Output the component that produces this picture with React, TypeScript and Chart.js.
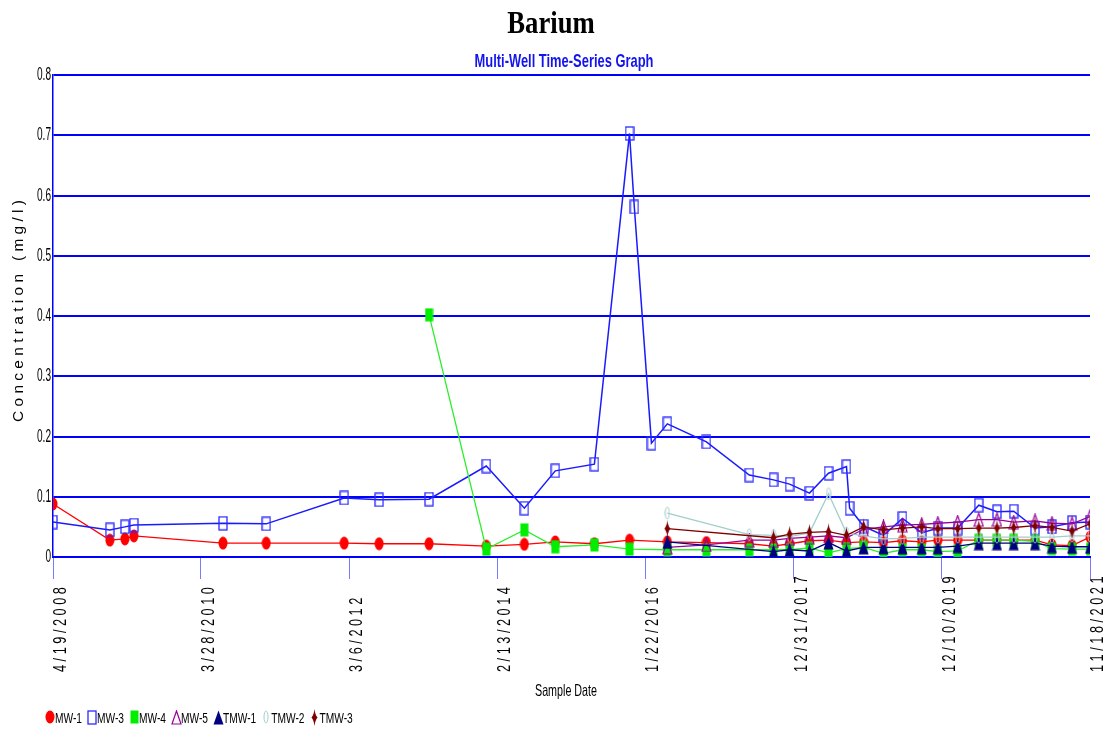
import { useEffect, useRef } from "react";
import { Chart, registerables } from "chart.js";

Chart.register(...registerables);

const SANS = '"Liberation Sans", Arial, Helvetica, sans-serif';

// Axis ticks
const tickDates = ["2008-04-19", "2010-03-28", "2012-03-06", "2014-02-13", "2016-01-22", "2017-12-31", "2019-12-10", "2021-11-18"];
const yMin = 0;
const yMax = 0.8;
const yStep = 0.1;

// Well series
const mw1Dates = ["2008-04-19", "2009-01-16", "2009-03-29", "2009-05-11", "2010-07-11", "2011-02-03", "2012-02-11", "2012-07-27", "2013-03-23", "2013-12-22", "2014-06-22", "2014-11-17", "2015-05-23", "2015-11-07", "2016-05-06", "2016-11-09", "2017-06-02", "2017-09-26", "2017-12-12", "2018-03-17", "2018-06-16", "2018-09-10", "2018-12-01", "2019-03-06", "2019-06-05", "2019-09-05", "2019-11-21", "2020-02-24", "2020-06-04", "2020-08-30", "2020-11-18", "2021-02-28", "2021-05-20", "2021-08-24", "2021-11-18"];
const mw1Values = [0.088, 0.028, 0.030, 0.035, 0.023, 0.023, 0.023, 0.022, 0.022, 0.018, 0.021, 0.025, 0.022, 0.028, 0.025, 0.024, 0.022, 0.018, 0.022, 0.027, 0.028, 0.024, 0.025, 0.024, 0.027, 0.025, 0.028, 0.028, 0.028, 0.028, 0.028, 0.028, 0.020, 0.019, 0.033];

const mw3Dates = ["2008-04-19", "2009-01-16", "2009-03-29", "2009-05-11", "2010-07-11", "2011-02-03", "2012-02-11", "2012-07-27", "2013-03-23", "2013-12-22", "2014-06-22", "2014-11-17", "2015-05-23", "2015-11-07", "2015-11-30", "2016-02-20", "2016-05-06", "2016-11-09", "2017-06-02", "2017-09-26", "2017-12-12", "2018-03-17", "2018-06-16", "2018-09-10", "2018-09-25", "2018-12-01", "2019-03-06", "2019-06-05", "2019-09-05", "2019-11-21", "2020-02-24", "2020-06-04", "2020-08-30", "2020-11-18", "2021-02-28", "2021-05-20", "2021-08-24", "2021-11-18"];
const mw3Values = [0.058, 0.045, 0.050, 0.053, 0.056, 0.055, 0.098, 0.095, 0.096, 0.151, 0.081, 0.143, 0.154, 0.703, 0.581, 0.189, 0.221, 0.191, 0.136, 0.128, 0.121, 0.106, 0.139, 0.150, 0.081, 0.051, 0.036, 0.064, 0.040, 0.048, 0.048, 0.086, 0.075, 0.076, 0.048, 0.050, 0.057, 0.058];

const mw4Dates = ["2013-03-23", "2013-12-22", "2014-06-22", "2014-11-17", "2015-05-23", "2015-11-07", "2016-05-06", "2016-11-09", "2017-06-02", "2017-09-26", "2017-12-12", "2018-03-17", "2018-06-16", "2018-09-10", "2018-12-01", "2019-03-06", "2019-06-05", "2019-09-05", "2019-11-21", "2020-02-24", "2020-06-04", "2020-08-30", "2020-11-18", "2021-02-28", "2021-05-20", "2021-08-24", "2021-11-18"];
const mw4Values = [0.402, 0.013, 0.045, 0.017, 0.020, 0.013, 0.012, 0.012, 0.012, 0.012, 0.012, 0.015, 0.007, 0.014, 0.016, 0.006, 0.012, 0.012, 0.009, 0.010, 0.028, 0.028, 0.028, 0.026, 0.014, 0.013, 0.013];

const mw5Dates = ["2016-05-06", "2016-11-09", "2017-06-02", "2017-09-26", "2017-12-12", "2018-03-17", "2018-06-16", "2018-09-10", "2018-12-01", "2019-03-06", "2019-06-05", "2019-09-05", "2019-11-21", "2020-02-24", "2020-06-04", "2020-08-30", "2020-11-18", "2021-02-28", "2021-05-20", "2021-08-24", "2021-11-18"];
const mw5Values = [0.016, 0.020, 0.028, 0.028, 0.031, 0.033, 0.035, 0.032, 0.046, 0.050, 0.053, 0.054, 0.056, 0.058, 0.062, 0.062, 0.058, 0.060, 0.056, 0.055, 0.067];

const tmw1Dates = ["2016-05-06", "2017-09-26", "2017-12-12", "2018-03-17", "2018-06-16", "2018-09-10", "2018-12-01", "2019-03-06", "2019-06-05", "2019-09-05", "2019-11-21", "2020-02-24", "2020-06-04", "2020-08-30", "2020-11-18", "2021-02-28", "2021-05-20", "2021-08-24", "2021-11-18"];
const tmw1Values = [0.025, 0.009, 0.012, 0.010, 0.024, 0.010, 0.016, 0.016, 0.016, 0.016, 0.016, 0.018, 0.023, 0.023, 0.023, 0.023, 0.018, 0.017, 0.017];

const tmw2Dates = ["2016-05-06", "2017-06-02", "2017-09-26", "2017-12-12", "2018-03-17", "2018-06-16", "2018-09-10", "2018-12-01", "2019-03-06", "2019-06-05", "2019-09-05", "2019-11-21", "2020-02-24", "2020-06-04", "2020-08-30", "2020-11-18", "2021-02-28", "2021-05-20", "2021-08-24", "2021-11-18"];
const tmw2Values = [0.073, 0.037, 0.036, 0.034, 0.040, 0.105, 0.040, 0.035, 0.030, 0.031, 0.033, 0.033, 0.033, 0.033, 0.033, 0.033, 0.033, 0.033, 0.035, 0.035];

const tmw3Dates = ["2016-05-06", "2017-09-26", "2017-12-12", "2018-03-17", "2018-06-16", "2018-09-10", "2018-12-01", "2019-03-06", "2019-06-05", "2019-09-05", "2019-11-21", "2020-02-24", "2020-06-04", "2020-08-30", "2020-11-18", "2021-02-28", "2021-05-20", "2021-08-24", "2021-11-18"];
const tmw3Values = [0.047, 0.032, 0.038, 0.041, 0.042, 0.036, 0.050, 0.045, 0.048, 0.050, 0.047, 0.047, 0.048, 0.048, 0.049, 0.052, 0.049, 0.043, 0.055];

const seriesLabels = ["MW-1", "MW-3", "MW-4", "MW-5", "TMW-1", "TMW-2", "TMW-3"];
const seriesColors = ["#ff0000", "#1a1aff", "#2aee2a", "#990099", "#000080", "#a3cccc", "#800000"];

const chartTitle = "Barium";
const chartSubtitle = "Multi-Well Time-Series Graph";
const xTitle = "Sample Date";
const yTitle = "Concentration (mg/l)";

type Painter = (ctx: CanvasRenderingContext2D, w: number, h: number) => void;

function makeMarker(w: number, h: number, paint: Painter): HTMLCanvasElement {
  const c = document.createElement("canvas");
  c.width = w;
  c.height = h;
  const ctx = c.getContext("2d")!;
  paint(ctx, w, h);
  return c;
}

function buildMarkers(): HTMLCanvasElement[] {
  return [
    // filled ellipse
    makeMarker(10, 14, (ctx) => {
      ctx.fillStyle = "#ff0000";
      ctx.beginPath();
      ctx.ellipse(5, 7, 4.5, 6.5, 0, 0, Math.PI * 2);
      ctx.fill();
    }),
    // open rectangle
    makeMarker(10, 15, (ctx) => {
      ctx.strokeStyle = "#2a2aff";
      ctx.lineWidth = 1.3;
      ctx.strokeRect(1, 1, 8, 13);
    }),
    // filled rectangle
    makeMarker(9, 14, (ctx) => {
      ctx.fillStyle = "#00ee00";
      ctx.fillRect(0.5, 0.5, 8, 13);
    }),
    // open triangle
    makeMarker(11, 15, (ctx) => {
      ctx.strokeStyle = "#990099";
      ctx.lineWidth = 1.2;
      ctx.beginPath();
      ctx.moveTo(5.5, 1);
      ctx.lineTo(10, 14);
      ctx.lineTo(1, 14);
      ctx.closePath();
      ctx.stroke();
    }),
    // filled triangle
    makeMarker(11, 15, (ctx) => {
      ctx.fillStyle = "#000080";
      ctx.beginPath();
      ctx.moveTo(5.5, 0.5);
      ctx.lineTo(10.5, 14.5);
      ctx.lineTo(0.5, 14.5);
      ctx.closePath();
      ctx.fill();
    }),
    // thin open ellipse
    makeMarker(6, 14, (ctx) => {
      ctx.strokeStyle = "#a3cccc";
      ctx.lineWidth = 1;
      ctx.beginPath();
      ctx.ellipse(3, 7, 2, 6, 0, 0, Math.PI * 2);
      ctx.stroke();
    }),
    // thin diamond
    makeMarker(7, 17, (ctx) => {
      ctx.fillStyle = "#800000";
      ctx.beginPath();
      ctx.moveTo(3.5, 0);
      ctx.quadraticCurveTo(4.2, 6, 6.5, 8.5);
      ctx.quadraticCurveTo(4.2, 11, 3.5, 17);
      ctx.quadraticCurveTo(2.8, 11, 0.5, 8.5);
      ctx.quadraticCurveTo(2.8, 6, 3.5, 0);
      ctx.fill();
    }),
  ];
}

// Letter-spaced text, words separated by a wider gap
const spaced = (s: string) => s.split(" ").map((w) => w.split("").join(" ")).join("   ");

function formatDate(ms: number): string {
  const d = new Date(ms);
  return `${d.getUTCMonth() + 1}/${d.getUTCDate()}/${d.getUTCFullYear()}`;
}

function toPoints(dates: string[], values: number[]) {
  return dates.map((d, i) => ({ x: Date.parse(d), y: values[i] }));
}

// Draws text squeezed along its own direction by sx, optionally rotated.
function drawText(
  ctx: CanvasRenderingContext2D,
  text: string,
  x: number,
  y: number,
  opts: { font: string; color?: string; sx?: number; align?: CanvasTextAlign; baseline?: CanvasTextBaseline; rotate?: number; fitWidth?: number }
) {
  ctx.save();
  ctx.font = opts.font;
  ctx.fillStyle = opts.color ?? "#000000";
  ctx.textAlign = opts.align ?? "center";
  ctx.textBaseline = opts.baseline ?? "alphabetic";
  ctx.translate(x, y);
  if (opts.rotate) ctx.rotate(opts.rotate);
  let sx = opts.sx ?? 1;
  if (opts.fitWidth) sx = opts.fitWidth / ctx.measureText(text).width;
  ctx.scale(sx, 1);
  ctx.fillText(text, 0, 0);
  ctx.restore();
}

export default function App() {
  const canvasRef = useRef<HTMLCanvasElement | null>(null);

  useEffect(() => {
    if (!canvasRef.current) return;
    const markers = buildMarkers();
    const tickMs = tickDates.map((d) => Date.parse(d));

    const seriesData = [
      toPoints(mw1Dates, mw1Values),
      toPoints(mw3Dates, mw3Values),
      toPoints(mw4Dates, mw4Values),
      toPoints(mw5Dates, mw5Values),
      toPoints(tmw1Dates, tmw1Values),
      toPoints(tmw2Dates, tmw2Values),
      toPoints(tmw3Dates, tmw3Values),
    ];

    // Condensed text: titles, axis labels, axis titles and the series key
    const textLayer = {
      id: "textLayer",
      afterDraw(chart: any) {
        const ctx: CanvasRenderingContext2D = chart.ctx;
        const xs = chart.scales.x;
        const ys = chart.scales.y;
        const area = chart.chartArea;

        drawText(ctx, chartTitle, 551, 33, { font: 'bold 31px "Liberation Serif", "Times New Roman", serif', sx: 0.86 });
        drawText(ctx, chartSubtitle, 564, 67, { font: `bold 19px ${SANS}`, color: "#1414ee", sx: 0.68 });

        // y tick labels
        ys.ticks.forEach((t: any) => {
          const py = ys.getPixelForValue(t.value);
          const label = String(Math.round(t.value * 10) / 10);
          drawText(ctx, label, area.left - 2, py, { font: `19px ${SANS}`, sx: 0.53, align: "right", baseline: "middle" });
        });

        // x tick labels, reading upward
        xs.ticks.forEach((t: any) => {
          const px = xs.getPixelForValue(t.value);
          drawText(ctx, spaced(formatDate(t.value)), px + 13, 672, {
            font: `19px ${SANS}`,
            sx: 0.67,
            align: "left",
            rotate: -Math.PI / 2,
          });
        });

        // axis titles
        drawText(ctx, spaced(yTitle), 23, (area.top + area.bottom) / 2 - 5, {
          font: `15px ${SANS}`,
          rotate: -Math.PI / 2,
          fitWidth: 222,
        });
        drawText(ctx, xTitle, 566, 696, { font: `16.5px ${SANS}`, sx: 0.65 });

        // series key along the bottom
        const keyY = 717;
        const sx = 0.68;
        ctx.save();
        ctx.font = `15px ${SANS}`;
        let m = 50;
        seriesLabels.forEach((label, i) => {
          const img = markers[i];
          ctx.drawImage(img, Math.round(m - img.width / 2), Math.round(keyY - img.height / 2));
          const w = ctx.measureText(label).width * sx;
          drawText(ctx, label, m + 5, keyY + 5.5, { font: `15px ${SANS}`, sx, align: "left" });
          m = m + 5 + w + 10;
        });
        ctx.restore();
      },
    };

    const chart = new Chart(canvasRef.current, {
      type: "line",
      data: {
        datasets: seriesLabels.map((label, i) => ({
          label,
          data: seriesData[i],
          borderColor: seriesColors[i],
          backgroundColor: seriesColors[i],
          borderWidth: i === 1 ? 1.5 : 1.3,
          pointStyle: markers[i] as any,
          pointRadius: 6,
          fill: false,
          tension: 0,
          order: seriesLabels.length - i,
        })),
      },
      options: {
        animation: false,
        responsive: false,
        devicePixelRatio: 1,
        layout: { padding: { top: 75, right: 17, left: 0, bottom: 0 } },
        plugins: {
          legend: { display: false },
          title: { display: false },
          tooltip: { enabled: false },
        },
        scales: {
          x: {
            type: "linear",
            min: tickMs[0],
            max: tickMs[tickMs.length - 1],
            offset: false,
            afterBuildTicks: (scale: any) => {
              scale.ticks = tickMs.map((v) => ({ value: v }));
            },
            afterFit: (scale: any) => {
              scale.height = 175;
            },
            ticks: { display: false, autoSkip: false },
            grid: {
              drawOnChartArea: false,
              drawTicks: true,
              tickLength: 22,
              color: "#7b7bff",
              lineWidth: 1,
            },
            border: { display: true, color: "#0000ff", width: 2 },
          },
          y: {
            min: yMin,
            max: yMax,
            afterFit: (scale: any) => {
              scale.width = 53;
            },
            ticks: { display: false, stepSize: yStep },
            grid: { color: "#0000ff", lineWidth: 2, drawTicks: false },
            border: { display: true, color: "#0000ff", width: 1.5 },
          },
        },
      },
      plugins: [textLayer],
    });

    return () => chart.destroy();
  }, []);

  return (
    <div style={{ position: "absolute", left: 0, top: 0, width: 1107, height: 732, background: "#ffffff" }}>
      <canvas ref={canvasRef} width={1107} height={732} />
    </div>
  );
}
